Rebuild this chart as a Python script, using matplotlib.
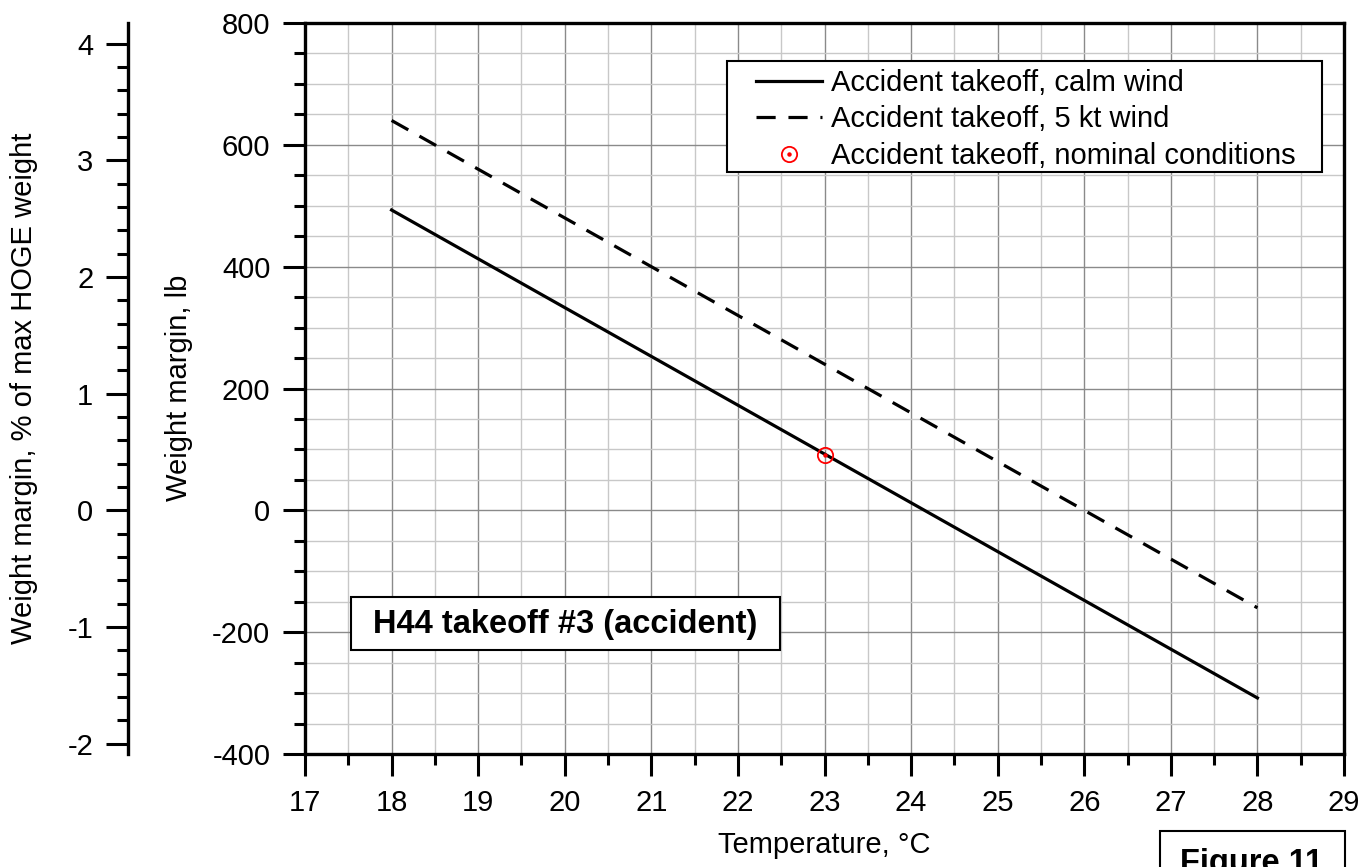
import matplotlib
matplotlib.use('Agg')
import matplotlib.pyplot as plt
from matplotlib.ticker import MultipleLocator
from matplotlib.patches import Rectangle
from matplotlib.legend_handler import HandlerTuple

plt.rcParams['font.family'] = ['Liberation Sans', 'DejaVu Sans']
plt.rcParams['axes.unicode_minus'] = False

# ---- data ----
temp_calm = [18, 28]
margin_calm = [493, -308]
temp_wind = [18, 28]
margin_wind = [640, -160]
nominal_temp = [23]
nominal_margin = [91]
lb_per_percent = 191.5  # 1 % of max HOGE weight, lb

labels = ['Accident takeoff, calm wind',
          'Accident takeoff, 5 kt wind',
          'Accident takeoff, nominal conditions']

W, H = 1372, 867
FS = 21
fig = plt.figure(figsize=(W / 100, H / 100), dpi=100)


def fx(px):
    return px / W


def fy(py):
    return 1 - py / H


L, R, T, B = 305, 1344, 23, 754
ax = fig.add_axes([fx(L), fy(B), fx(R) - fx(L), fy(T) - fy(B)])
ax.set_xlim(17, 29)
ax.set_ylim(-400, 800)
ax.xaxis.set_major_locator(MultipleLocator(1))
ax.xaxis.set_minor_locator(MultipleLocator(0.5))
ax.yaxis.set_major_locator(MultipleLocator(200))
ax.yaxis.set_minor_locator(MultipleLocator(50))
ax.grid(which='major', color='#8a8a8a', lw=1.0)
ax.grid(which='minor', color='#c8c8c8', lw=1.0)
ax.set_axisbelow(True)
ax.tick_params(which='major', direction='out', length=16, width=2.2,
               labelsize=FS, pad=9, top=False, right=False)
ax.tick_params(which='minor', direction='out', length=8, width=2.2,
               top=False, right=False)
for s in ax.spines.values():
    s.set_linewidth(2.4)

l1, = ax.plot(temp_calm, margin_calm, color='black', lw=2.3)
l2, = ax.plot(temp_wind, margin_wind, color='black', lw=2.3, ls=(0, (6, 4)))
c1, = ax.plot(nominal_temp, nominal_margin, 'o', mfc='none', mec='red',
              ms=11, mew=1.3, zorder=5)
c2, = ax.plot(nominal_temp, nominal_margin, 'o', color='red', ms=2.2, zorder=6)

# legend frame drawn by hand (wider side padding than matplotlib's)
fig.add_artist(Rectangle((fx(727), fy(172)), fx(1322) - fx(727),
                         fy(61) - fy(172), transform=fig.transFigure,
                         facecolor='white', edgecolor='black', lw=1.5,
                         zorder=4))
leg = fig.legend(handles=[l1, l2, (c1, c2)], labels=labels,
                 loc='upper left', bbox_to_anchor=(fx(756), fy(69)),
                 bbox_transform=fig.transFigure, borderaxespad=0,
                 frameon=False, fontsize=FS, handlelength=2.26,
                 handletextpad=0.31, labelspacing=0.29, borderpad=0,
                 handler_map={tuple: HandlerTuple(ndivide=1)})
leg.set_zorder(5)

# secondary (percent) axis on the left
ax2 = fig.add_axes([fx(128), fy(B), 0.0005, fy(T) - fy(B)])
ax2.set_ylim(-400 / lb_per_percent, 800 / lb_per_percent)
ax2.patch.set_visible(False)
for k in ('right', 'top', 'bottom'):
    ax2.spines[k].set_visible(False)
ax2.spines['left'].set_linewidth(2.4)
ax2.set_xticks([])
ax2.yaxis.set_major_locator(MultipleLocator(1))
ax2.yaxis.set_minor_locator(MultipleLocator(0.2))
ax2.tick_params(which='major', direction='out', length=16, width=2.2,
                labelsize=FS, pad=9)
ax2.tick_params(which='minor', direction='out', length=8, width=2.2)

# axis labels
fig.text(fx((L + R) / 2), fy(845), 'Temperature, °C', ha='center',
         va='center', fontsize=FS)
fig.text(fx(179), fy(388), 'Weight margin, lb', rotation=90, ha='center',
         va='center', fontsize=FS)
fig.text(fx(24), fy(388), 'Weight margin, % of max HOGE weight', rotation=90,
         ha='center', va='center', fontsize=FS)

# annotation boxes
fig.add_artist(Rectangle((fx(351), fy(650)), fx(780) - fx(351),
                         fy(597) - fy(650), transform=fig.transFigure,
                         facecolor='white', edgecolor='black', lw=1.5,
                         zorder=5))
fig.text(fx(565.5), fy(624), 'H44 takeoff #3 (accident)', ha='center',
         va='center', fontsize=23.5, fontweight='bold', zorder=6)

fig.add_artist(Rectangle((fx(1160), fy(900)), fx(1345) - fx(1160),
                         fy(831) - fy(900), transform=fig.transFigure,
                         facecolor='white', edgecolor='black', lw=1.5,
                         zorder=5))
fig.text(fx(1252), fy(872), 'Figure 11', ha='center', va='baseline',
         fontsize=23.5, fontweight='bold', zorder=6)

fig.savefig('out.png', dpi=100)
